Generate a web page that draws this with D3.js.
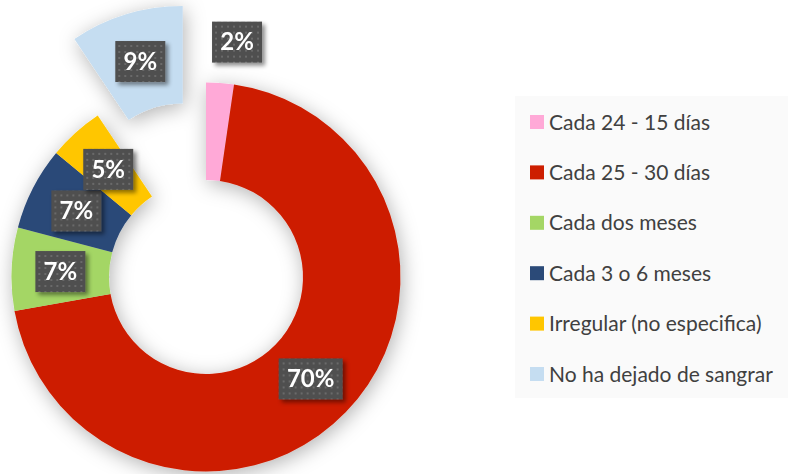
<!DOCTYPE html>
<html>
<head>
<meta charset="utf-8">
<script src="https://cdn.jsdelivr.net/npm/d3@7"></script>
<style>
  body { margin: 0; background: #fff; }
  svg { display: block; font-family: Lato, "Open Sans", sans-serif; }
</style>
</head>
<body>
<div id="chart"></div>
<script>
const categories = [
    "Cada 24 - 15 días",
    "Cada 25 - 30 días",
    "Cada dos meses",
    "Cada 3 o 6 meses",
    "Irregular (no especifica)",
    "No ha dejado de sangrar",
];
const values = [2.3, 69.9, 6.9, 6.9, 4.6, 9.4];
const colors = ["#ffa9d7", "#cd1e00", "#a4d665", "#2b4a78", "#ffc600", "#c5ddf1"];
const explodedIdx = 5;

const width = 788, height = 474;
const cx = 206, cy = 277;
const outerR = 194.5, innerR = 97;
const explode = 80;

var svg = d3.select("#chart").append("svg")
    .attr("width", width)
    .attr("height", height);

var defs = svg.append("defs");
var sh = defs.append("filter").attr("id", "pieShadow")
    .attr("x", "-30%").attr("y", "-30%").attr("width", "160%").attr("height", "160%");
sh.append("feDropShadow").attr("dx", 2).attr("dy", 4)
    .attr("stdDeviation", 10).attr("flood-color", "#000").attr("flood-opacity", 0.3);
var bsh = defs.append("filter").attr("id", "boxShadow")
    .attr("x", "-30%").attr("y", "-30%").attr("width", "160%").attr("height", "160%");
bsh.append("feDropShadow").attr("dx", 3).attr("dy", 3)
    .attr("stdDeviation", 2).attr("flood-color", "#000").attr("flood-opacity", 0.45);
var pat = defs.append("pattern").attr("id", "dots")
    .attr("patternUnits", "userSpaceOnUse").attr("width", 6).attr("height", 6);
pat.append("rect").attr("width", 6).attr("height", 6).attr("fill", "#4f4f4f");
pat.append("rect").attr("x", 2).attr("y", 2).attr("width", 2).attr("height", 2).attr("fill", "#6a6a6a");

var pie = d3.pie().sort(null).value(function(d) { return d; });
var arcs = pie(values);
var arc = d3.arc().innerRadius(innerR).outerRadius(outerR);
var outsideArc = d3.arc().innerRadius(236).outerRadius(236);

function offset(d, i) {
    if (i != explodedIdx) return [0, 0];
    var mid = (d.startAngle + d.endAngle) / 2;
    return [explode * Math.sin(mid), -explode * Math.cos(mid)];
}

var pieG = svg.append("g")
    .attr("transform", "translate(" + cx + "," + cy + ")");

pieG.append("g")
    .attr("filter", "url(#pieShadow)")
    .selectAll("path")
    .data(arcs)
    .join("path")
    .attr("d", arc)
    .attr("fill", function(d, i) { return colors[i]; })
    .attr("transform", function(d, i) {
        var o = offset(d, i);
        return "translate(" + o[0] + "," + o[1] + ")";
    });

// data labels; small slices get theirs outside, beside the slice
var fmt = d3.format(".0%");
var labels = pieG.append("g")
    .selectAll("g")
    .data(arcs)
    .join("g")
    .attr("transform", function(d, i) {
        var c = d.value < 3 ? outsideArc.centroid(d) : arc.centroid(d);
        if (d.value < 3) c[0] += 14;
        var o = offset(d, i);
        return "translate(" + (c[0] + o[0]) + "," + (c[1] + o[1]) + ")";
    });

labels.append("rect")
    .attr("x", function(d) { return fmt(d.value / 100).length > 2 ? -32 : -25; })
    .attr("y", -20)
    .attr("width", function(d) { return fmt(d.value / 100).length > 2 ? 64 : 50; })
    .attr("height", 41)
    .attr("fill", "url(#dots)")
    .attr("filter", "url(#boxShadow)");

labels.append("text")
    .attr("text-anchor", "middle")
    .attr("dy", "0.36em")
    .attr("fill", "#fff")
    .attr("font-weight", "bold")
    .attr("font-size", 24)
    .text(function(d) { return fmt(d.value / 100); });

// legend
svg.append("rect")
    .attr("x", 515).attr("y", 96)
    .attr("width", 280).attr("height", 302)
    .attr("fill", "#fafafa");

var legendY = d3.scalePoint().domain(categories).range([122, 374]);
var legend = svg.append("g")
    .selectAll("g")
    .data(categories)
    .join("g")
    .attr("transform", function(d) { return "translate(530," + legendY(d) + ")"; });

legend.append("rect")
    .attr("x", 0).attr("y", -7)
    .attr("width", 14).attr("height", 14)
    .attr("fill", function(d, i) { return colors[i]; });

legend.append("text")
    .attr("x", 19)
    .attr("dy", "0.36em")
    .attr("font-size", 21)
    .attr("fill", "#404040")
    .text(function(d) { return d; });
</script>
</body>
</html>
